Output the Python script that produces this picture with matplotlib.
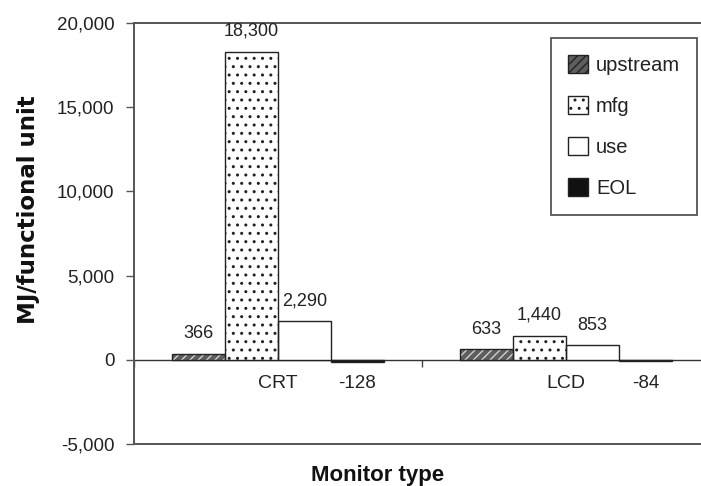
import matplotlib
matplotlib.use("Agg")
import matplotlib.pyplot as plt
import numpy as np
from matplotlib.ticker import FuncFormatter
from matplotlib.patches import Patch

plt.rcParams['font.family'] = ['Liberation Sans', 'DejaVu Sans']
plt.rcParams['hatch.linewidth'] = 1.0

categories = ["CRT", "LCD"]
series = ["upstream", "mfg", "use", "EOL"]
upstream = [366, 633]
mfg = [18300, 1440]
use = [2290, 853]
eol = [-128, -84]
labels_text = {
    "upstream": ["366", "633"],
    "mfg": ["18,300", "1,440"],
    "use": ["2,290", "853"],
    "EOL": ["-128", "-84"],
}
y_ticks = [-5000, 0, 5000, 10000, 15000, 20000]

fig = plt.figure(figsize=(7.01, 4.86), dpi=100)
ax = fig.add_axes([134/701, 42/486, 576/701, 421/486])

x = np.arange(len(categories))
width = 0.184
offsets = [-1.5, -0.5, 0.5, 1.5]
styles = {
    "upstream": dict(face="#5e5e5e", hatch="////", hcol="#d0d0d0"),
    "mfg": dict(face="white", hatch="..", hcol="#222222"),
    "use": dict(face="white", hatch=None, hcol=None),
    "EOL": dict(face="#111111", hatch=None, hcol=None),
}
data = {"upstream": upstream, "mfg": mfg, "use": use, "EOL": eol}

handles = []
for name, off in zip(series, offsets):
    st = styles[name]
    vals = data[name]
    pos = x + off * width
    if st["hatch"]:
        ax.bar(pos, vals, width, color=st["face"], hatch=st["hatch"],
               edgecolor=st["hcol"], linewidth=0, zorder=2)
    else:
        ax.bar(pos, vals, width, color=st["face"], linewidth=0, zorder=2)
    ax.bar(pos, vals, width, fill=False, edgecolor="#222222", linewidth=1.0, zorder=3)
    for p, v, t in zip(pos, vals, labels_text[name]):
        if v >= 0:
            ax.annotate(t, (p, v), xytext=(0, 14.5), textcoords="offset points",
                        ha="center", va="center", fontsize=13, color="#222222")
        else:
            ax.annotate(t, (p, 0), xytext=(0, -17), textcoords="offset points",
                        ha="center", va="center", fontsize=13.5, color="#222222")
    h = Patch(facecolor=st["face"], edgecolor="#222222",
              hatch=st["hatch"] if st["hatch"] else None)
    handles.append(h)

ax.set_xlim(-0.5, 1.5)
ax.set_ylim(-5000, 20000)
ax.set_yticks(y_ticks)
ax.yaxis.set_major_formatter(FuncFormatter(lambda v, p: f"{int(v):,}"))
ax.tick_params(axis="y", direction="out", length=6, width=1, colors="#555555",
               labelcolor="#222222", labelsize=13.5, pad=8)
ax.set_xticks([])
for s in ["left", "top", "bottom", "right"]:
    ax.spines[s].set_color("#555555")
    ax.spines[s].set_linewidth(1.4)

sec = ax.secondary_xaxis(0.2)
sec.set_xticks(x)
sec.set_xticklabels(categories)
sec.set_xticks([-0.5, 0.5, 1.5], minor=True)
sec.tick_params(axis="x", which="major", length=0, labelsize=14, pad=11,
                labelcolor="#222222")
sec.tick_params(axis="x", which="minor", length=5, width=1, color="#444444")
sec.spines["bottom"].set_color("#333333")
sec.spines["bottom"].set_linewidth(1.0)

leg = ax.legend(handles, series, loc="upper right", bbox_to_anchor=(0.978, 0.964),
                fontsize=14.5, labelspacing=1.05, handlelength=1.0, handleheight=1.0,
                handletextpad=0.4, borderpad=0.85, borderaxespad=0, fancybox=False,
                framealpha=1, edgecolor="#555555")
leg.get_frame().set_linewidth(1.3)
for t in leg.get_texts():
    t.set_color("#222222")

fig.text(29/701, 1 - 210/486, "MJ/functional unit", rotation=90, ha="center",
         va="center", fontsize=16.5, fontweight="bold", color="#111111",
         family=["DejaVu Sans"])
fig.text(378/701, 1 - 475/486, "Monitor type", ha="center", va="center",
         fontsize=16, fontweight="bold", color="#111111")

fig.savefig("out.png", dpi=100)
